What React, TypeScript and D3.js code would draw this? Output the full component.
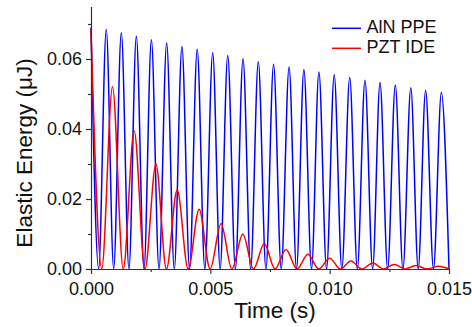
import React, { useEffect, useRef } from "react";
import * as d3 from "d3";

// peak / zero positions (time in s, energy in µJ)
const bluePeakT = [0, 0.00064, 0.00127, 0.0019, 0.00253, 0.00317, 0.00381, 0.00445, 0.0051, 0.00573, 0.00637, 0.00701, 0.00765, 0.0083, 0.00892, 0.00955, 0.01019, 0.01084, 0.01148, 0.01211, 0.01275, 0.0134, 0.01402, 0.01468];
const bluePeakE = [0.069, 0.0684, 0.0675, 0.0665, 0.0655, 0.0646, 0.0636, 0.0628, 0.0618, 0.061, 0.0601, 0.0592, 0.0585, 0.0577, 0.057, 0.0563, 0.0555, 0.0547, 0.0539, 0.0533, 0.0526, 0.0518, 0.0511, 0.0504];
const blueZeroT = [0.00032, 0.00095, 0.00159, 0.00222, 0.00285, 0.00349, 0.00413, 0.00477, 0.00541, 0.00605, 0.00669, 0.00733, 0.00797, 0.00861, 0.00924, 0.00987, 0.01051, 0.01116, 0.0118, 0.01243, 0.01307, 0.01371, 0.01435, 0.015];

const redPeakT = [0, 0.0009, 0.00181, 0.00272, 0.00361, 0.00453, 0.00545, 0.00636, 0.00726, 0.00817, 0.00909, 0.01, 0.01089, 0.01181, 0.01271, 0.01361, 0.01455];
const redPeakE = [0.0683, 0.0521, 0.0394, 0.0299, 0.0226, 0.0171, 0.0129, 0.0099, 0.0073, 0.0056, 0.0042, 0.0031, 0.0023, 0.0017, 0.0013, 0.001, 0.0008];
const redZeroT = [0.00045, 0.00135, 0.00226, 0.00316, 0.00407, 0.00499, 0.0059, 0.00681, 0.00771, 0.00863, 0.00954, 0.01045, 0.01135, 0.01226, 0.01316, 0.01408, 0.015];

const xTicks = [0, 0.005, 0.01, 0.015];
const xMinor = [0.0025, 0.0075, 0.0125];
const yTicks = [0, 0.02, 0.04, 0.06];
const yMinor = [0.01, 0.03, 0.05, 0.07];

const seriesNames = ["AlN PPE", "PZT IDE"];
const seriesColors = ["#0000ff", "#ff0000"];

const W = 472, H = 327;
const FONT = "'Liberation Sans', Arial, sans-serif";

function toPoints(peakT: number[], peakE: number[], zeroT: number[]) {
  const pts: [number, number][] = [];
  peakT.forEach((t, i) => pts.push([t, peakE[i]]));
  zeroT.forEach(t => pts.push([t, 0]));
  return pts.sort((a, b) => a[0] - b[0]);
}

export default function App() {
  const ref = useRef<SVGSVGElement>(null);

  useEffect(() => {
    document.body.style.margin = "0";
    const svg = d3.select(ref.current);
    svg.selectAll("*").remove();

    const x = d3.scaleLinear().domain([0, 0.015]).range([91, 449]);
    const y = d3.scaleLinear().domain([0, 0.075]).range([269, 6.5]);

    const line = d3.line<[number, number]>()
      .x(d => x(d[0]))
      .y(d => y(d[1]))
      .curve(d3.curveMonotoneX);

    const data = [
      toPoints(bluePeakT, bluePeakE, blueZeroT),
      toPoints(redPeakT, redPeakE, redZeroT),
    ];

    data.forEach((pts, i) => {
      svg.append("path")
        .attr("d", line(pts))
        .attr("fill", "none")
        .attr("stroke", seriesColors[i])
        .attr("stroke-width", 1.5);
    });

    // x axis
    const gx = svg.append("g").attr("transform", "translate(0,269)");
    gx.call(d3.axisBottom(x).tickValues(xTicks).tickFormat(d3.format(".3f")).tickSize(5).tickSizeOuter(0).tickPadding(8));
    const gxm = svg.append("g").attr("transform", "translate(0,269)");
    gxm.call(d3.axisBottom(x).tickValues(xMinor).tickFormat(() => "").tickSize(3).tickSizeOuter(0));
    gxm.select(".domain").remove();

    // y axis
    const gy = svg.append("g").attr("transform", "translate(91,0)");
    gy.call(d3.axisLeft(y).tickValues(yTicks).tickFormat(d3.format(".2f")).tickSize(5).tickSizeOuter(0).tickPadding(4));
    const gym = svg.append("g").attr("transform", "translate(91,0)");
    gym.call(d3.axisLeft(y).tickValues(yMinor).tickFormat(() => "").tickSize(3).tickSizeOuter(0));
    gym.select(".domain").remove();

    svg.selectAll(".domain, .tick line").attr("stroke", "#333").attr("stroke-width", 1.2);
    svg.selectAll(".tick text").attr("fill", "#111").style("font-family", FONT).style("font-size", "18px");

    // axis titles
    svg.append("text")
      .attr("x", 275).attr("y", 318)
      .attr("text-anchor", "middle")
      .style("font-family", FONT).style("font-size", "22.5px").attr("fill", "#111")
      .text("Time (s)");
    svg.append("text")
      .attr("transform", "translate(31.5,153) rotate(-90)")
      .attr("text-anchor", "middle")
      .style("font-family", FONT).style("font-size", "22.5px").attr("fill", "#111")
      .text("Elastic Energy (\u03bcJ)");

    // legend
    seriesNames.forEach((name, i) => {
      const ly = 28.3 + i * 20;
      svg.append("line")
        .attr("x1", 332).attr("x2", 361).attr("y1", ly).attr("y2", ly)
        .attr("stroke", seriesColors[i]).attr("stroke-width", 1.5);
      svg.append("text")
        .attr("x", 366.5).attr("y", ly + 5)
        .style("font-family", FONT).style("font-size", "18px").attr("fill", "#111")
        .text(name);
    });
  }, []);

  return <svg ref={ref} width={W} height={H} style={{ display: "block", background: "#fff" }} />;
}
